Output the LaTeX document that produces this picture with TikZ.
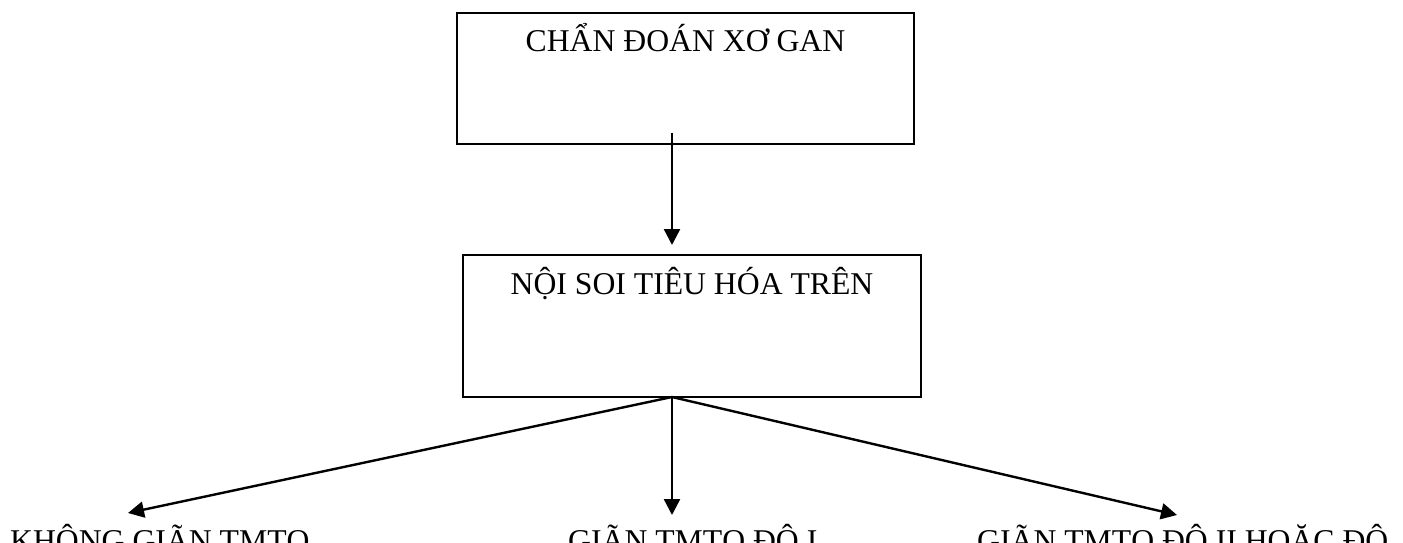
\documentclass[tikz,border=0pt]{standalone}
\usepackage{fontspec}
\setmainfont{Liberation Serif}
\usetikzlibrary{arrows.meta,calc}
\begin{document}
\begin{tikzpicture}[x=1pt,y=1pt,
  box/.style={draw,line width=2pt,minimum width=#1,inner sep=0pt},
  lbl/.style={inner sep=0pt,font=\fontsize{31.7}{38}\selectfont},
  arr/.style={line width=2.4pt,-{Triangle[length=16pt,width=16pt]}}]
\useasboundingbox (0,0) rectangle (1403,542);
\clip (0,0) rectangle (1403,542);
\node[box=457pt,minimum height=131pt] (b1) at (685.5,463.5) {};
\node[lbl,anchor=base] (t1) at ([yshift=-40pt]b1.north) {CHẨN ĐOÁN XƠ GAN};
\node[box=458pt,minimum height=142pt] (b2) at (692,216) {};
\node[lbl,anchor=base] (t2) at ([yshift=-40pt]b2.north) {NỘI SOI TIÊU HÓA TRÊN};
\coordinate (s1) at (672,409);
\coordinate (e1) at (672,297);
\coordinate (s2) at (672,145);
\node[lbl,anchor=base west] (l) at (10,-9) {KHÔNG GIÃN TMTQ};
\node[lbl,anchor=base west] (m) at (568,-9) {GIÃN TMTQ ĐỘ I};
\node[lbl,anchor=base west] (r) at (977,-9) {GIÃN TMTQ ĐỘ II HOẶC ĐỘ};
\coordinate (eL) at (128,29);
\coordinate (eM) at (672,27);
\coordinate (eR) at (1177,27);
\draw[arr] (s1) -- (e1);
\draw[arr] (s2) -- (eL);
\draw[arr] (s2) -- (eM);
\draw[arr] (s2) -- (eR);
\end{tikzpicture}
\end{document}
